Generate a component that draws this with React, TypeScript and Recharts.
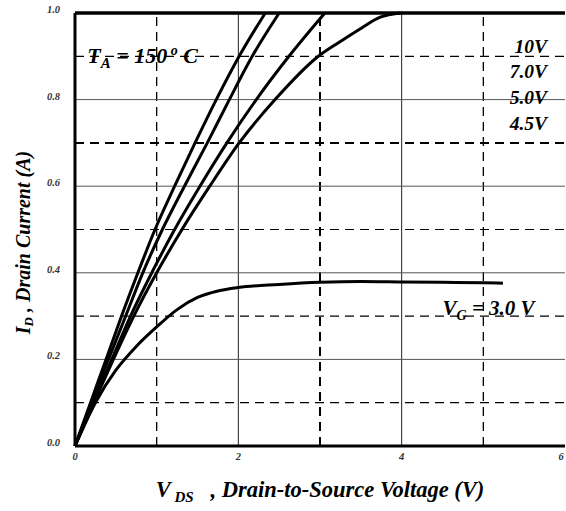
import { LineChart, Line, XAxis, YAxis, ReferenceLine, ReferenceDot } from 'recharts'

const currentLevels = [0, 0.1, 0.2, 0.3, 0.4, 0.5, 0.6, 0.7, 0.8, 0.9, 1.0]
const vds10V = [0, 0.19, 0.38, 0.57, 0.77, 0.98, 1.22, 1.47, 1.73, 2.01, 2.33]
const vds7V = [0, 0.2, 0.41, 0.62, 0.83, 1.07, 1.34, 1.62, 1.89, 2.17, 2.5]
const vds5V = [0, 0.22, 0.45, 0.68, 0.94, 1.22, 1.53, 1.86, 2.22, 2.62, 3.06]
const vds45V = [0, 0.23, 0.47, 0.72, 1.0, 1.31, 1.65, 2.01, 2.45, 2.98, 3.24, 3.49, 3.73, 4.0]
const id45V = [0, 0.1, 0.2, 0.3, 0.4, 0.5, 0.6, 0.7, 0.8, 0.9, 0.933, 0.963, 0.99, 1.0]
const vds3V = [0, 0.25, 0.5, 0.75, 1.0, 1.25, 1.5, 1.75, 2.0, 2.5, 3.0, 3.5, 4.0, 4.5, 5.0, 5.24]
const id3V = [0, 0.1, 0.175, 0.23, 0.275, 0.315, 0.343, 0.358, 0.366, 0.373, 0.378, 0.38, 0.379, 0.378, 0.377, 0.376]

const xTicks = [0, 2, 4, 6]
const yTicks = [0, 0.2, 0.4, 0.6, 0.8, 1.0]
const solidX = [2, 4]
const dashedX = [1, 3, 5]
const solidY = [0.2, 0.4, 0.6, 0.8]
const dashedY = [0.1, 0.3, 0.5, 0.7, 0.9]
const gateLabels = ['10V', '7.0V', '5.0V', '4.5V']
const gateLabelY = [0.908, 0.85, 0.79, 0.73]

const toPoints = (vs: number[], is: number[]) => vs.map((v, k) => ({ v, i: is[k] }))

const series = [
  toPoints(vds10V, currentLevels),
  toPoints(vds7V, currentLevels),
  toPoints(vds5V, currentLevels),
  toPoints(vds45V, id45V),
  toPoints(vds3V, id3V),
]

const serif = '"Liberation Serif", "Times New Roman", serif'
const nb = '\u00a0'

function Tick({ x, y, payload, textAnchor, dy, fmt }: any) {
  // keep the last x tick inside the frame (it sits right on the edge)
  const tx = Math.min(x, 561)
  return (
    <text x={tx} y={y} dy={dy} textAnchor={textAnchor} fontFamily={serif} fontStyle="italic"
      fontWeight="bold" fontSize={10.5} fill="#333">
      {fmt(payload.value)}
    </text>
  )
}

function XTitle({ viewBox }: any) {
  return (
    <text x={viewBox.x + viewBox.width / 2} y={viewBox.y + 51} textAnchor="middle"
      fontFamily={serif} fontStyle="italic" fontWeight="bold" fontSize={22.5} fill="#000">
      <tspan>V</tspan>
      <tspan fontSize={15} dy={5}>{nb}DS</tspan>
      <tspan dy={-5}>{nb}{nb}{nb}, Drain-to-Source Voltage (V)</tspan>
    </text>
  )
}

function YTitle({ viewBox }: any) {
  const cx = viewBox.x + 23
  const cy = viewBox.y + viewBox.height / 2 + 13
  return (
    <text x={cx} y={cy} transform={`rotate(-90 ${cx} ${cy})`} textAnchor="middle" dominantBaseline="central"
      fontFamily={serif} fontStyle="italic" fontWeight="bold" fontSize={20} fill="#000">
      <tspan>I</tspan>
      <tspan fontSize={13} dy={5}>D</tspan>
      <tspan dy={-5}>{nb}, Drain Current (A)</tspan>
    </text>
  )
}

function TempLabel({ viewBox }: any) {
  return (
    <text x={viewBox.x} y={viewBox.y} fontFamily={serif} fontStyle="italic" fontWeight="bold" fontSize={22} fill="#000">
      <tspan>T</tspan>
      <tspan fontSize={15} dy={5}>A</tspan>
      <tspan dy={-5}>{nb}={nb}150</tspan>
      <tspan fontSize={14} dy={-8}>{nb}o</tspan>
      <tspan dy={8}>{nb}C</tspan>
    </text>
  )
}

function GateLabel({ viewBox, text }: any) {
  return (
    <text x={viewBox.x} y={viewBox.y} textAnchor="end" fontFamily={serif} fontStyle="italic" fontWeight="bold" fontSize={19.5} fill="#000">
      {text}
    </text>
  )
}

function VgLabel({ viewBox }: any) {
  return (
    <text x={viewBox.x} y={viewBox.y} fontFamily={serif} fontStyle="italic" fontWeight="bold" fontSize={21} fill="#000">
      <tspan>V</tspan>
      <tspan fontSize={14} dy={5}>G</tspan>
      <tspan dy={-5}>{nb}={nb}3.0{nb}V</tspan>
    </text>
  )
}

export default function App() {
  return (
    <div style={{ position: 'absolute', top: 0, left: 0, background: '#fff' }}>
      <LineChart width={566} height={511} margin={{ top: 13, right: 1, bottom: 0, left: 0 }}>
        <XAxis type="number" dataKey="v" domain={[0, 6]} ticks={xTicks} interval={0}
          axisLine={{ stroke: '#000', strokeWidth: 3 }} tickLine={false} tickSize={6} tickMargin={8}
          tick={<Tick fmt={(t: number) => String(t)} />} height={65} label={{ content: XTitle }} />
        <YAxis type="number" domain={[0, 1]} ticks={yTicks} interval={0} width={75}
          axisLine={{ stroke: '#000', strokeWidth: 3 }} tickLine={false} tickSize={6} tickMargin={9}
          tick={<Tick fmt={(t: number) => t.toFixed(1)} />} label={{ content: YTitle }} />

        {solidX.map((x) => <ReferenceLine key={'sx' + x} x={x} stroke="#222" strokeWidth={1} />)}
        {dashedX.map((x) => (
          <ReferenceLine key={'dx' + x} x={x} stroke="#000" strokeWidth={x === 3 ? 2 : 1.3} strokeDasharray="9 6" />
        ))}
        {solidY.map((y) => <ReferenceLine key={'sy' + y} y={y} stroke="#555" strokeWidth={1} />)}
        {dashedY.map((y) => (
          <ReferenceLine key={'dy' + y} y={y} stroke="#000" strokeWidth={y === 0.7 ? 2 : 1.2} strokeDasharray="9 6" />
        ))}
        <ReferenceLine y={1} stroke="#000" strokeWidth={3.5} />

        {series.map((d, k) => (
          <Line key={k} data={d} dataKey="i" type="monotone" stroke="#000" strokeWidth={3}
            dot={false} activeDot={false} isAnimationActive={false} />
        ))}

        <ReferenceDot x={0.15} y={0.885} r={0} fill="none" stroke="none" label={{ content: TempLabel }} />
        {gateLabels.map((t, k) => (
          <ReferenceDot key={t} x={5.78} y={gateLabelY[k]} r={0} fill="none" stroke="none"
            label={{ content: (p: any) => <GateLabel {...p} text={t} /> }} />
        ))}
        <ReferenceDot x={4.5} y={0.3025} r={0} fill="none" stroke="none" label={{ content: VgLabel }} />
      </LineChart>
    </div>
  )
}
